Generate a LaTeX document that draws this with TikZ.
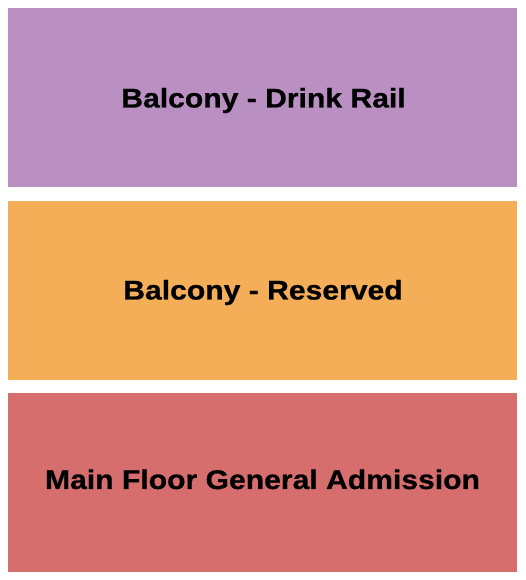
\documentclass[tikz,border=0pt]{standalone}
\usepackage{fontspec}
\setmainfont{Liberation Sans}
\newfontfamily\widefont[FakeStretch=1.115,FakeBold=0.8]{Liberation Sans}
\definecolor{cpurple}{HTML}{BA90C3}
\definecolor{corange}{HTML}{F3AE57}
\definecolor{cred}{HTML}{D76E6E}
\begin{document}
\begin{tikzpicture}[x=1pt,y=1pt,
  section/.style={inner sep=0pt,outer sep=0pt,minimum width=509pt,minimum height=179pt},
  label/.style={inner sep=0pt,outer sep=0pt,anchor=base,font=\widefont\fontsize{27}{32}\selectfont\bfseries,text=black}]
\useasboundingbox (0,0) rectangle (525,580);
\fill[white] (0,0) rectangle (525,580);
\node[section,fill=cpurple] (drink) at (262.5,482.5) {};
\node[section,fill=corange] (reserved) at (262.5,289.5) {};
\node[section,fill=cred] (mainfloor) at (262.5,97.5) {};
\node[label] (drinktext) at (263.5,472.5) {Balcony - Drink Rail};
\node[label] (reservedtext) at (263,280.5) {Balcony - Reserved};
\node[label] (mainfloortext) at (262.5,91) {Main Floor General Admission};
\end{tikzpicture}
\end{document}
